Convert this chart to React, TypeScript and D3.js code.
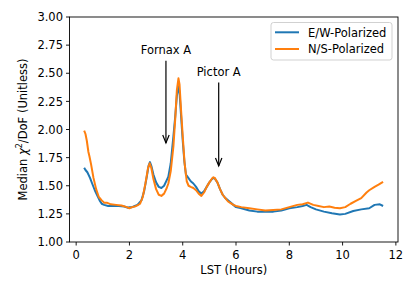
import React from "react";
import * as d3 from "d3";

// LST (hours) and median chi^2/DoF
const ewHours = [0.3, 0.35, 0.42, 0.52, 0.6, 0.7, 0.78, 0.88, 0.96, 1.05, 1.2, 1.4, 1.6, 1.8, 1.95, 2.0, 2.1, 2.2, 2.3, 2.45, 2.55, 2.65, 2.72, 2.77, 2.83, 2.9, 3.0, 3.1, 3.2, 3.3, 3.4, 3.46, 3.55, 3.65, 3.72, 3.78, 3.84, 3.88, 3.93, 4.0, 4.06, 4.12, 4.21, 4.3, 4.4, 4.5, 4.6, 4.7, 4.8, 4.9, 5.0, 5.1, 5.15, 5.2, 5.3, 5.4, 5.5, 5.6, 5.7, 5.8, 5.9, 6.0, 6.2, 6.5, 6.8, 7.1, 7.4, 7.7, 8.0, 8.3, 8.5, 8.65, 8.8, 9.0, 9.3, 9.6, 9.9, 10.1, 10.4, 10.7, 11.0, 11.2, 11.4, 11.52];
const ewValues = [1.66, 1.64, 1.62, 1.57, 1.52, 1.46, 1.42, 1.37, 1.34, 1.33, 1.32, 1.32, 1.32, 1.315, 1.305, 1.31, 1.31, 1.32, 1.33, 1.37, 1.45, 1.58, 1.68, 1.71, 1.67, 1.6, 1.53, 1.49, 1.48, 1.5, 1.55, 1.58, 1.7, 1.94, 2.12, 2.3, 2.38, 2.33, 2.15, 1.9, 1.72, 1.6, 1.57, 1.54, 1.52, 1.49, 1.45, 1.43, 1.45, 1.49, 1.53, 1.56, 1.57, 1.565, 1.53, 1.47, 1.42, 1.39, 1.37, 1.35, 1.33, 1.31, 1.3, 1.28, 1.27, 1.27, 1.27, 1.28, 1.3, 1.31, 1.32, 1.33, 1.31, 1.29, 1.27, 1.255, 1.245, 1.25, 1.275, 1.29, 1.3, 1.33, 1.335, 1.32];

const nsHours = [0.3, 0.35, 0.4, 0.46, 0.5, 0.56, 0.65, 0.75, 0.85, 0.96, 1.05, 1.15, 1.3, 1.5, 1.7, 1.9, 2.0, 2.1, 2.2, 2.3, 2.4, 2.5, 2.6, 2.7, 2.76, 2.82, 2.9, 3.0, 3.1, 3.2, 3.3, 3.4, 3.46, 3.55, 3.65, 3.72, 3.78, 3.84, 3.88, 3.93, 4.0, 4.07, 4.15, 4.22, 4.3, 4.4, 4.5, 4.6, 4.7, 4.8, 4.9, 5.0, 5.1, 5.15, 5.2, 5.3, 5.4, 5.5, 5.6, 5.7, 5.8, 5.9, 6.0, 6.2, 6.5, 6.8, 7.1, 7.4, 7.7, 8.0, 8.3, 8.5, 8.7, 8.9, 9.1, 9.3, 9.5, 9.7, 9.9, 10.1, 10.3, 10.5, 10.7, 10.9, 11.0, 11.2, 11.35, 11.52];
const nsValues = [1.99, 1.96, 1.9, 1.8, 1.76, 1.69, 1.57, 1.47, 1.4, 1.37, 1.35, 1.35, 1.335, 1.33, 1.325, 1.31, 1.3, 1.31, 1.315, 1.325, 1.34, 1.4, 1.52, 1.66, 1.7, 1.66, 1.56, 1.47, 1.42, 1.41, 1.43, 1.48, 1.52, 1.63, 1.85, 2.1, 2.35, 2.455, 2.4, 2.2, 1.94, 1.7, 1.54, 1.5, 1.49, 1.48, 1.46, 1.43, 1.41, 1.44, 1.49, 1.53, 1.565, 1.575, 1.57, 1.53, 1.47, 1.42, 1.39, 1.36, 1.345, 1.33, 1.32, 1.31, 1.3, 1.29, 1.28, 1.285, 1.29, 1.31, 1.33, 1.335, 1.35, 1.33, 1.32, 1.31, 1.315, 1.305, 1.3, 1.31, 1.34, 1.365, 1.39, 1.44, 1.46, 1.49, 1.51, 1.535];

const seriesNames = ["E/W-Polarized", "N/S-Polarized"];
const seriesColors = ["#1f77b4", "#ff7f0e"];

const xTicks = [0, 2, 4, 6, 8, 10, 12];
const yTicks = [1.0, 1.25, 1.5, 1.75, 2.0, 2.25, 2.5, 2.75, 3.0];

// annotation: label, arrow x, arrow tip y, text baseline y (data units)
const notes = [
  { label: "Fornax A", x: 3.37, tip: 1.88, text: 2.67 },
  { label: "Pictor A", x: 5.35, tip: 1.676, text: 2.476 },
];

const W = 415;
const H = 291;
const margin = { left: 69.5, right: 17, top: 17, bottom: 49 };
const font = "DejaVu Sans, sans-serif";

export default function App() {
  const x = d3.scaleLinear().domain([-0.25, 12.08]).range([margin.left, W - margin.right]);
  const y = d3.scaleLinear().domain([1.0, 3.0]).range([H - margin.bottom, margin.top]);

  const line = d3
    .line<[number, number]>()
    .x((d) => x(d[0]))
    .y((d) => y(d[1]));

  const series = [
    d3.zip(ewHours, ewValues) as [number, number][],
    d3.zip(nsHours, nsValues) as [number, number][],
  ];

  const x0 = margin.left;
  const x1 = W - margin.right;
  const y0 = H - margin.bottom;
  const y1 = margin.top;

  return (
    <svg width={W} height={H} style={{ position: "absolute", left: 0, top: 0 }} fontFamily={font}>
      <rect width={W} height={H} fill="white" />
      {series.map((s, i) => (
        <path key={i} d={line(s) || ""} fill="none" stroke={seriesColors[i]} strokeWidth={2} strokeLinejoin="round" />
      ))}

      {/* annotations */}
      {notes.map((n) => {
        const ax = x(n.x);
        const tipY = y(n.tip);
        const tailY = y(n.text) + 6.5;
        return (
          <g key={n.label}>
            <text x={ax} y={y(n.text)} textAnchor="middle" fontSize={11.5} fill="black">
              {n.label}
            </text>
            <line x1={ax} x2={ax} y1={tailY} y2={tipY} stroke="black" strokeWidth={1.2} />
            <path d={`M${ax - 3.2},${tipY - 8} L${ax},${tipY} L${ax + 3.2},${tipY - 8}`} fill="none" stroke="black" strokeWidth={1.2} />
          </g>
        );
      })}

      {/* frame */}
      <rect x={x0} y={y1} width={x1 - x0} height={y0 - y1} fill="none" stroke="black" strokeWidth={0.9} />

      {/* x axis */}
      {xTicks.map((t) => (
        <g key={t}>
          <line x1={x(t)} x2={x(t)} y1={y0} y2={y0 + 3.5} stroke="black" strokeWidth={0.9} />
          <text x={x(t)} y={y0 + 17} textAnchor="middle" fontSize={11.5}>
            {t}
          </text>
        </g>
      ))}
      <text x={(x0 + x1) / 2} y={274} textAnchor="middle" fontSize={11.5}>
        LST (Hours)
      </text>

      {/* y axis */}
      {yTicks.map((t) => (
        <g key={t}>
          <line x1={x0 - 3.5} x2={x0} y1={y(t)} y2={y(t)} stroke="black" strokeWidth={0.9} />
          <text x={x0 - 6.5} y={y(t) + 4.2} textAnchor="end" fontSize={11.5}>
            {d3.format(".2f")(t)}
          </text>
        </g>
      ))}
      <text transform={`translate(26.5,${(y0 + y1) / 2}) rotate(-90)`} textAnchor="middle" fontSize={11.5}>
        Median <tspan fontStyle="italic">χ</tspan>
        <tspan fontSize={8} dy={-4.5}>2</tspan>
        <tspan dy={4.5}>/DoF (Unitless)</tspan>
      </text>

      {/* legend */}
      <rect x={271} y={22.5} width={121} height={37.5} rx={2.5} fill="white" fillOpacity={0.8} stroke="#cccccc" strokeWidth={0.9} />
      {seriesNames.map((name, i) => (
        <g key={name}>
          <line x1={275} x2={299} y1={32.3 + i * 16.7} y2={32.3 + i * 16.7} stroke={seriesColors[i]} strokeWidth={2} />
          <text x={308} y={32.3 + i * 16.7 + 4.2} fontSize={11.5}>
            {name}
          </text>
        </g>
      ))}
    </svg>
  );
}
